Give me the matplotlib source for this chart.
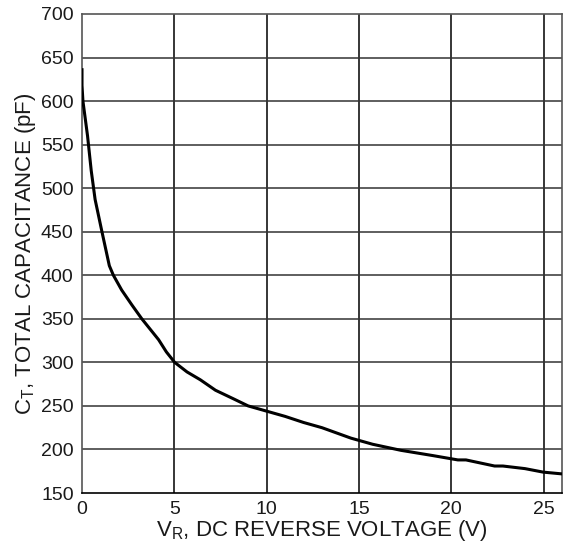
import matplotlib
matplotlib.use("Agg")
import matplotlib.pyplot as plt

plt.rcParams['font.family'] = ['Liberation Sans', 'DejaVu Sans']
plt.rcParams['mathtext.default'] = 'regular'

# Capacitance curve
vr = [0.0, 0.0, 0.05, 0.3, 0.5, 0.71, 1.07, 1.48, 1.70, 2.15, 2.7, 3.24, 4.15, 4.57,
      5.02, 5.69, 6.41, 7.23, 8.22, 9.0, 10.0, 11.0, 12.0, 13.0, 14.57, 15.74, 16.4,
      17.28, 19.0, 20.36, 20.8, 22.35, 22.8, 24.0, 24.98, 25.98]
ct = [636, 618, 600, 560, 520, 487, 451, 411, 400, 383, 366, 350, 326, 312,
      300, 289, 280, 268, 258, 250, 244, 238, 231, 225, 213, 206, 203,
      199, 193, 188, 188, 181, 181, 178, 174, 172]

xticks = [0, 5, 10, 15, 20, 25]
yticks = list(range(150, 701, 50))

fig = plt.figure(figsize=(5.64, 5.5), dpi=100)
ax = fig.add_axes([0.1454, 0.1036, 0.851, 0.871])

ax.plot(vr, ct, color='black', linewidth=2.2, solid_joinstyle='round', zorder=3)

ax.set_xlim(0, 26)
ax.set_ylim(150, 700)
ax.set_xticks(xticks)
ax.set_yticks(yticks)

for x in xticks[1:]:
    ax.axvline(x, color='black', linewidth=1.1, zorder=1)
for y in yticks[1:-1]:
    ax.axhline(y, color='#333333', linewidth=1.1, zorder=1)

for side in ['left', 'right', 'top']:
    ax.spines[side].set_color('#555555')
    ax.spines[side].set_linewidth(1.2)
ax.spines['bottom'].set_color('black')
ax.spines['bottom'].set_linewidth(1.2)

ax.tick_params(length=0, labelsize=14, pad=6, labelcolor='#1a1a1a')
ax.set_xlabel('V$_R$, DC REVERSE VOLTAGE (V)', fontsize=16, labelpad=0,
              color='#1a1a1a')
ax.set_ylabel('C$_T$, TOTAL CAPACITANCE (pF)', fontsize=16, labelpad=2,
              color='#1a1a1a')

fig.savefig('out.png', dpi=100)
